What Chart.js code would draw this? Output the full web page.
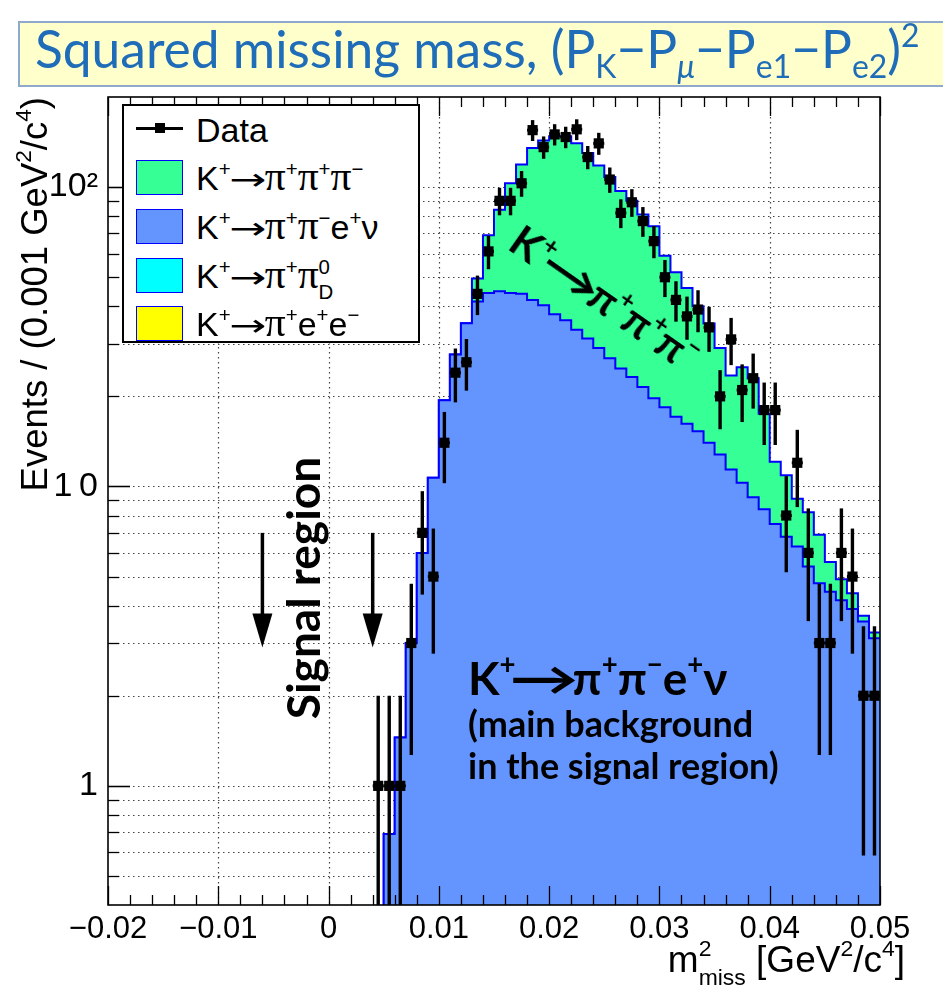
<!DOCTYPE html>
<html><head><meta charset="utf-8">
<script src="https://cdn.jsdelivr.net/npm/chart.js@4.4.1/dist/chart.umd.min.js"></script>
<style>
html,body{margin:0;padding:0;background:#fff;}
body{width:943px;height:989px;position:relative;overflow:hidden;font-family:"Liberation Sans",Arial,sans-serif;color:#000;}
#c{position:absolute;left:0;top:0;}
#title{position:absolute;left:18px;top:21px;width:940px;height:66px;background:#FFFFCC;border:2px solid #8FA9CC;box-sizing:border-box;}
#title .t{position:absolute;left:15px;top:-5px;font-family:Lato,"Open Sans",sans-serif;font-size:51.5px;line-height:61px;color:#1F6DB8;white-space:nowrap;}
#title sub{font-size:62%;vertical-align:-0.3em;line-height:0;}
#title sup{font-size:62%;vertical-align:0.65em;line-height:0;}
#legend{position:absolute;left:122px;top:104px;width:298px;height:239px;border:2px solid #000;background:#fff;box-sizing:border-box;}
.le{position:absolute;left:0;width:294px;height:48px;}
.sw{position:absolute;left:12px;top:6px;width:47px;height:35px;border:1.5px solid #0000FF;box-sizing:border-box;}
.lt{position:absolute;left:72px;top:2px;font-size:34px;line-height:44px;white-space:nowrap;}
.lt sup{font-size:60%;vertical-align:0.7em;line-height:0;}
.lt .pi{font-family:"Liberation Serif",serif;font-size:122%;line-height:0;}
.arr{display:inline-block;transform:scaleX(1.45);margin:0 0.14em;font-family:"DejaVu Sans",sans-serif;font-size:90%;}
.ds{position:absolute;}
.st{display:inline-block;vertical-align:-0.55em;font-size:60%;line-height:1.25;text-align:left;}
.st span{display:block;}
#ytitle{position:absolute;left:-185px;top:297px;width:440px;height:40px;line-height:40px;text-align:right;transform:rotate(-90deg);font-size:36.5px;white-space:nowrap;}
#ytitle sup,#xtitle sup{font-size:62%;vertical-align:0.7em;line-height:0;}
#xtitle{position:absolute;right:38px;top:934px;font-size:37px;line-height:44px;white-space:nowrap;}
.ann{position:absolute;font-family:Lato,"Open Sans",sans-serif;font-weight:bold;white-space:nowrap;color:#000;}
.ann sup{font-size:60%;vertical-align:0.75em;line-height:0;}
.ann .arr{font-family:Lato,"DejaVu Sans",sans-serif;transform:scaleX(1.5);margin:0 0.12em;font-size:100%;}
</style></head>
<body>
<canvas id="c" width="943" height="989"></canvas>
<div id="title"><span class="t">Squared missing mass, (P<sub>K</sub>−P<sub><i>μ</i></sub>−P<sub>e1</sub>−P<sub>e2</sub>)<sup>2</sup></span></div>

<div id="legend">
  <div class="le" style="top:0px;">
    <div class="ds" style="left:12px;top:21px;width:47px;height:3px;background:#000;"></div>
    <div class="ds" style="left:31px;top:17px;width:10px;height:10px;background:#000;"></div>
    <div class="lt">Data</div>
  </div>
  <div class="le" style="top:48px;"><div class="sw" style="background:#36FF95;"></div><div class="lt">K<sup>+</sup><span class="arr">→</span><span class="pi">π</span><sup>+</sup><span class="pi">π</span><sup>+</sup><span class="pi">π</span><sup>−</sup></div></div>
  <div class="le" style="top:97px;"><div class="sw" style="background:#6495FF;"></div><div class="lt">K<sup>+</sup><span class="arr">→</span><span class="pi">π</span><sup>+</sup><span class="pi">π</span><sup>−</sup>e<sup>+</sup>ν</div></div>
  <div class="le" style="top:146px;"><div class="sw" style="background:#00FFFF;"></div><div class="lt">K<sup>+</sup><span class="arr">→</span><span class="pi">π</span><sup>+</sup><span class="pi">π</span><span class="st"><span>0</span><span>D</span></span></div></div>
  <div class="le" style="top:194px;"><div class="sw" style="background:#FFFF00;"></div><div class="lt">K<sup>+</sup><span class="arr">→</span><span class="pi">π</span><sup>+</sup>e<sup>+</sup>e<sup>−</sup></div></div>
</div>

<div id="ytitle">Events / (0.001 GeV<sup>2</sup>/c<sup>4</sup>)</div>
<div id="xtitle">m<span class="st" style="font-size:62%;"><span>2</span><span>miss</span></span> [GeV<sup>2</sup>/c<sup>4</sup>]</div>

<div class="ann" style="left:143px;top:562px;width:320px;height:52px;line-height:52px;text-align:center;transform:rotate(-90deg);font-size:46px;">Signal region</div>
<div class="ann" style="left:468px;top:650px;font-size:46px;line-height:56px;">K<sup>+</sup><span class="arr">→</span>π<sup>+</sup>π<sup>−</sup>e<sup>+</sup>ν</div>
<div class="ann" style="left:468px;top:702px;font-size:36px;line-height:42px;">(main background<br>in the signal region)</div>
<div class="ann" style="left:470px;top:272px;width:270px;height:52px;line-height:52px;text-align:center;transform:rotate(35deg);font-size:42px;">K<sup>+</sup><span class="arr">→</span>π<sup>+</sup>π<sup>+</sup>π<sup>−</sup></div>

<script>
// ---------------- data ----------------
// bin centres of the non-empty region, bin width 0.001 GeV^2/c^4
const binCenters = [0.0045,0.0055,0.0065,0.0075,0.0085,0.0095,0.0105,0.0115,0.0125,0.0135,
  0.0145,0.0155,0.0165,0.0175,0.0185,0.0195,0.0205,0.0215,0.0225,0.0235,
  0.0245,0.0255,0.0265,0.0275,0.0285,0.0295,0.0305,0.0315,0.0325,0.0335,
  0.0345,0.0355,0.0365,0.0375,0.0385,0.0395,0.0405,0.0415,0.0425,0.0435,
  0.0445,0.0455,0.0465,0.0475,0.0485,0.0495];
const dataCounts = [1,1,1,3,7,5,14,24,26,44,
  61,90,90,103,155,136,150,147,156,126,
  140,106,82,89,77,66,50,42,37,39,
  34,20,31,21,23,18,18,8,12,6,
  3,3,6,5,2,2];
const mcPiPiENu = [0.2,0.69,1.45,3.0,6.0,10.7,19.4,27.6,35.1,41.5,
  44.3,44.9,44.3,44.0,42.0,40.3,37.6,35.9,33.4,31.2,
  29.0,26.8,24.8,23.2,21.5,19.7,18.4,17.1,16.2,15.3,
  14.0,12.8,11.4,10.3,9.2,8.4,7.5,6.8,6.3,5.4,
  4.75,4.45,4.17,3.9,3.54,3.11];
const mcPiPiPi = [0,0,0,0,0,0,0,0,0,8.0,
  24.7,39.1,58.7,75.0,93.0,102.7,110.4,112.1,106.6,98.8,
  89.0,81.2,72.2,66.8,59.5,54.3,40.6,34.9,29.8,24.7,
  21.0,16.2,12.1,14.7,13.8,9.1,4.6,4.1,2.8,2.8,
  2.15,1.15,0.73,0.5,0.16,0.14];
const xTickVals = [-0.02,-0.01,0,0.01,0.02,0.03,0.04,0.05];
const yTickVals = [1,10,100];
const yTickLabels = ['1','1\u20090','10²'];
const arrowX = [-0.006, 0.004];      // signal-region arrows
const arrowY = [7, 2.9];             // arrow from / to (Events)
const binWidth = 0.001;

// ---------------- build histogram step points ----------------
function stepPoints(vals){
  const pts = binCenters.map((c,i)=>({x:+(c-binWidth/2).toFixed(4), y:vals[i]}));
  pts.push({x:+(binCenters[binCenters.length-1]+binWidth/2).toFixed(4), y:vals[vals.length-1]});
  return pts;
}
const totalVals = mcPiPiENu.map((v,i)=>v+mcPiPiPi[i]);

const X_MIN=-0.02, X_MAX=0.05, Y_MIN=0.4, Y_MAX=200;

function yGridVals(){
  const out=[];
  [0.1,1,10,100].forEach(d=>{for(let m=1;m<=9;m++){const v=d*m; if(v>Y_MIN*1.0001 && v<Y_MAX*0.9999) out.push(+v.toPrecision(3));}});
  return out;
}

const rootPlugin = {
  id:'rootframe',
  beforeDatasetsDraw(chart){
    const {ctx, chartArea:a, scales:{x,y}} = chart;
    ctx.save();
    ctx.strokeStyle='#444'; ctx.lineWidth=1.2; ctx.setLineDash([1.5,3.5]);
    xTickVals.forEach(v=>{
      const px=Math.round(x.getPixelForValue(v))+0.5;
      if(px>a.left+2 && px<a.right-2){ctx.beginPath();ctx.moveTo(px,a.top);ctx.lineTo(px,a.bottom);ctx.stroke();}
    });
    yGridVals().forEach(v=>{
      const py=Math.round(y.getPixelForValue(v))+0.5;
      ctx.beginPath();ctx.moveTo(a.left,py);ctx.lineTo(a.right,py);ctx.stroke();
    });
    ctx.restore();
  },
  afterDatasetsDraw(chart){
    const {ctx, chartArea:a, scales:{x,y}} = chart;
    ctx.save();
    ctx.beginPath(); ctx.rect(a.left,a.top,a.right-a.left,a.bottom-a.top); ctx.clip();
    ctx.strokeStyle='#000';
    binCenters.forEach((c,i)=>{
      const n=dataCounts[i]; const e=Math.sqrt(n);
      const px=x.getPixelForValue(c);
      const top=y.getPixelForValue(n+e);
      const bot=(n-e)>0 ? y.getPixelForValue(n-e) : a.bottom+5;
      ctx.lineWidth=3.4;
      ctx.beginPath();ctx.moveTo(px,top);ctx.lineTo(px,bot);ctx.stroke();
      const py=y.getPixelForValue(n);
      ctx.lineWidth=3;
      ctx.beginPath();ctx.moveTo(x.getPixelForValue(c-binWidth/2),py);ctx.lineTo(x.getPixelForValue(c+binWidth/2),py);ctx.stroke();
    });
    arrowX.forEach(v=>{
      const px=x.getPixelForValue(v);
      const y0=y.getPixelForValue(arrowY[0]), y1=y.getPixelForValue(arrowY[1]);
      ctx.lineWidth=3.5; ctx.strokeStyle='#000';
      ctx.beginPath();ctx.moveTo(px,y0);ctx.lineTo(px,y1-30);ctx.stroke();
      ctx.fillStyle='#000';
      ctx.beginPath();ctx.moveTo(px-10,y1-34);ctx.lineTo(px+10,y1-34);ctx.lineTo(px,y1);ctx.closePath();ctx.fill();
    });
    ctx.restore();
    ctx.save();
    ctx.strokeStyle='#000'; ctx.lineWidth=1.6;
    ctx.strokeRect(a.left,a.top,a.right-a.left,a.bottom-a.top);
    ctx.lineWidth=1.3;
    for(let k=0;k<=35;k++){
      const v=X_MIN+k*0.002; const px=Math.round(x.getPixelForValue(v))+0.5;
      const len=(k%5===0)?19:10;
      ctx.beginPath();ctx.moveTo(px,a.bottom);ctx.lineTo(px,a.bottom-len);ctx.stroke();
      ctx.beginPath();ctx.moveTo(px,a.top);ctx.lineTo(px,a.top+len);ctx.stroke();
    }
    yGridVals().concat(yTickVals).forEach(v=>{
      const py=Math.round(y.getPixelForValue(v))+0.5;
      const len=yTickVals.includes(v)?22:11;
      ctx.beginPath();ctx.moveTo(a.left,py);ctx.lineTo(a.left+len,py);ctx.stroke();
    });
    ctx.restore();
  }
};

const fmtX = v => { const r=+v.toFixed(3); if(r===0) return '0'; return (r<0?'−':'')+String(Math.abs(r)); };

new Chart(document.getElementById('c'), {
  type:'line',
  data:{
    datasets:[
      {label:'Data', type:'line', showLine:false, data:binCenters.map((c,i)=>({x:c,y:dataCounts[i]})),
       pointStyle:'rect', pointRadius:7.2, pointHoverRadius:7.2, backgroundColor:'#000', borderColor:'#000', borderWidth:0, order:0},
      {label:'K+→π+π−e+ν', data:stepPoints(mcPiPiENu), stepped:'before', fill:'start',
       backgroundColor:'#6495FF', borderColor:'#0000FF', borderWidth:2, pointRadius:0, order:1},
      {label:'K+→π+π+π−', data:stepPoints(totalVals), stepped:'before', fill:'start',
       backgroundColor:'#36FF95', borderColor:'#0000FF', borderWidth:2, pointRadius:0, order:2}
    ]
  },
  options:{
    responsive:false, animation:false, devicePixelRatio:1,
    layout:{padding:{left:0,top:97,right:63,bottom:0}},
    plugins:{legend:{display:false}, tooltip:{enabled:false}},
    events:[],
    scales:{
      x:{type:'linear', min:X_MIN, max:X_MAX,
         afterBuildTicks:s=>{s.ticks=xTickVals.map(v=>({value:v}));},
         afterFit:s=>{s.height=84;},
         grid:{display:false, drawTicks:false}, border:{display:false},
         ticks:{autoSkip:false, maxRotation:0, padding:6, color:'#000', font:{family:'Liberation Sans', size:31}, callback:v=>fmtX(v)}},
      y:{type:'logarithmic', min:Y_MIN, max:Y_MAX,
         afterBuildTicks:s=>{s.ticks=yTickVals.map(v=>({value:v}));},
         afterFit:s=>{s.width=108;},
         grid:{display:false, drawTicks:false}, border:{display:false},
         ticks:{autoSkip:false, padding:10, color:'#000', font:{family:'Liberation Sans', size:34},
                callback:(v)=>{const i=yTickVals.findIndex(t=>Math.abs(t-v)<1e-9*t); return i>=0?yTickLabels[i]:'';}}}
    }
  },
  plugins:[rootPlugin]
});
</script>
</body></html>
